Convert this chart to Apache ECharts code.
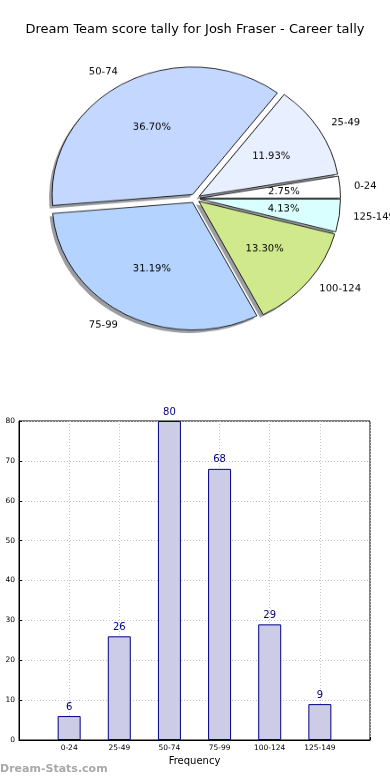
<!DOCTYPE html>
<html><head><meta charset="utf-8">
<script src="https://cdn.jsdelivr.net/npm/echarts@6/dist/echarts.min.js"></script>
<style>
html,body{margin:0;padding:0;background:#fff;}
#bar{position:absolute;left:0;top:0;width:390px;height:780px;}
#pie{position:absolute;left:0;top:0;width:390px;height:420px;transform-origin:0 0;transform:scaleY(0.9075);}
</style></head><body>
<div id="bar"></div><div id="pie"></div>
<script>
const titleText = 'Dream Team score tally for Josh Fraser - Career tally';
const categories = ['0-24','25-49','50-74','75-99','100-124','125-149'];
const frequencies = [6, 26, 80, 68, 29, 9];
const pieColors = ['#ffffff','#e8f0ff','#c4d8ff','#b4d4ff','#d0e98c','#d9ffff'];
const yMin = 0, yMax = 80, yStep = 10;
const xAxisName = 'Frequency';
const watermark = 'Dream-Stats.com';

const FONT = 'DejaVu Sans';
const total = frequencies.reduce((a,b)=>a+b,0);

// ---------- bar chart (with title & watermark) ----------
const bar = echarts.init(document.getElementById('bar'), null, {renderer:'canvas'});
const xCats = [' '].concat(categories, ['  ']);
const barVals = [null].concat(frequencies, [null]);
bar.setOption({
  animation:false,
  backgroundColor:'#ffffff',
  title:{text:titleText, left:'center', top:23, padding:0,
    textStyle:{fontFamily:FONT, fontSize:13, fontWeight:'normal', color:'#000'}},
  graphic:[{type:'text', left:0, top:764, style:{text:watermark, fill:'#a8a8a8',
    font:'bold 11px "DejaVu Sans"'}}],
  grid:{left:19, right:20, top:421, bottom:40, show:true, borderColor:'#000', borderWidth:1,
    backgroundColor:'transparent', outerBoundsMode:'none', containLabel:false},
  xAxis:{type:'category', data:xCats, boundaryGap:false,
    axisLine:{lineStyle:{color:'#000', width:1}},
    axisTick:{show:true, inside:true, length:3, lineStyle:{color:'#000'}},
    axisLabel:{interval:0, fontFamily:FONT, fontSize:7.5, color:'#000', margin:4},
    splitLine:{show:true, lineStyle:{color:'#c4c4c4', type:[1,2], width:1}},
    name:xAxisName, nameLocation:'middle', nameGap:16,
    nameTextStyle:{fontFamily:FONT, fontSize:10, color:'#000'}},
  yAxis:{type:'value', min:yMin, max:yMax, interval:yStep,
    axisLine:{show:true, lineStyle:{color:'#000', width:1}},
    axisTick:{show:true, inside:true, length:3, lineStyle:{color:'#000'}},
    axisLabel:{fontFamily:FONT, fontSize:7.5, color:'#000', margin:4},
    splitLine:{show:true, lineStyle:{color:'#c4c4c4', type:[1,2], width:1}}},
  series:[{type:'bar', data:barVals, barWidth:23,
    itemStyle:{color:'#ccccE6', borderColor:'#000080', borderWidth:1},
    label:{show:true, position:'top', distance:4, color:'#000080', fontFamily:FONT, fontSize:10},
    emphasis:{disabled:true}}]
});

// ---------- pie chart (elliptical via vertical scale) ----------
const pie = echarts.init(document.getElementById('pie'), null, {renderer:'canvas'});
const R = 140.5;
const pieCenter = [195, 218.7];
const shadowCenter = [192, 222];
const common = {type:'pie', clockwise:false, startAngle:0, selectedMode:'multiple',
  selectedOffset:5, avoidLabelOverlap:false, silent:true, emphasis:{disabled:true}};
pie.setOption({
  animation:false,
  backgroundColor:'transparent',
  series:[
    Object.assign({}, common, {center:shadowCenter, radius:R,
     label:{show:false}, labelLine:{show:false},
     itemStyle:{color:'rgba(55,60,70,0.5)', borderWidth:0},
     data:categories.map((c,i)=>({name:c, value:frequencies[i], selected:true}))}),
    Object.assign({}, common, {center:pieCenter, radius:R,
     label:{show:true, position:'outside', formatter:'{b}', fontFamily:FONT, fontSize:10,
       color:'#000', distanceToLabelLine:0},
     labelLine:{show:false, length:14, length2:0},
     itemStyle:{borderColor:'#111', borderWidth:0.9},
     data:categories.map((c,i)=>({name:c, value:frequencies[i], selected:true,
       itemStyle:{color:pieColors[i]}}))}),
    Object.assign({}, common, {center:pieCenter, radius:162.6,
     label:{show:true, position:'inner', fontFamily:FONT, fontSize:10, color:'#000',
       formatter:(p)=> (frequencies[p.dataIndex]/total*100).toFixed(2)+'%'},
     labelLine:{show:false},
     itemStyle:{color:'rgba(0,0,0,0)', borderWidth:0},
     data:categories.map((c,i)=>({name:c, value:frequencies[i], selected:true}))})
  ]
});
</script>
</body></html>
